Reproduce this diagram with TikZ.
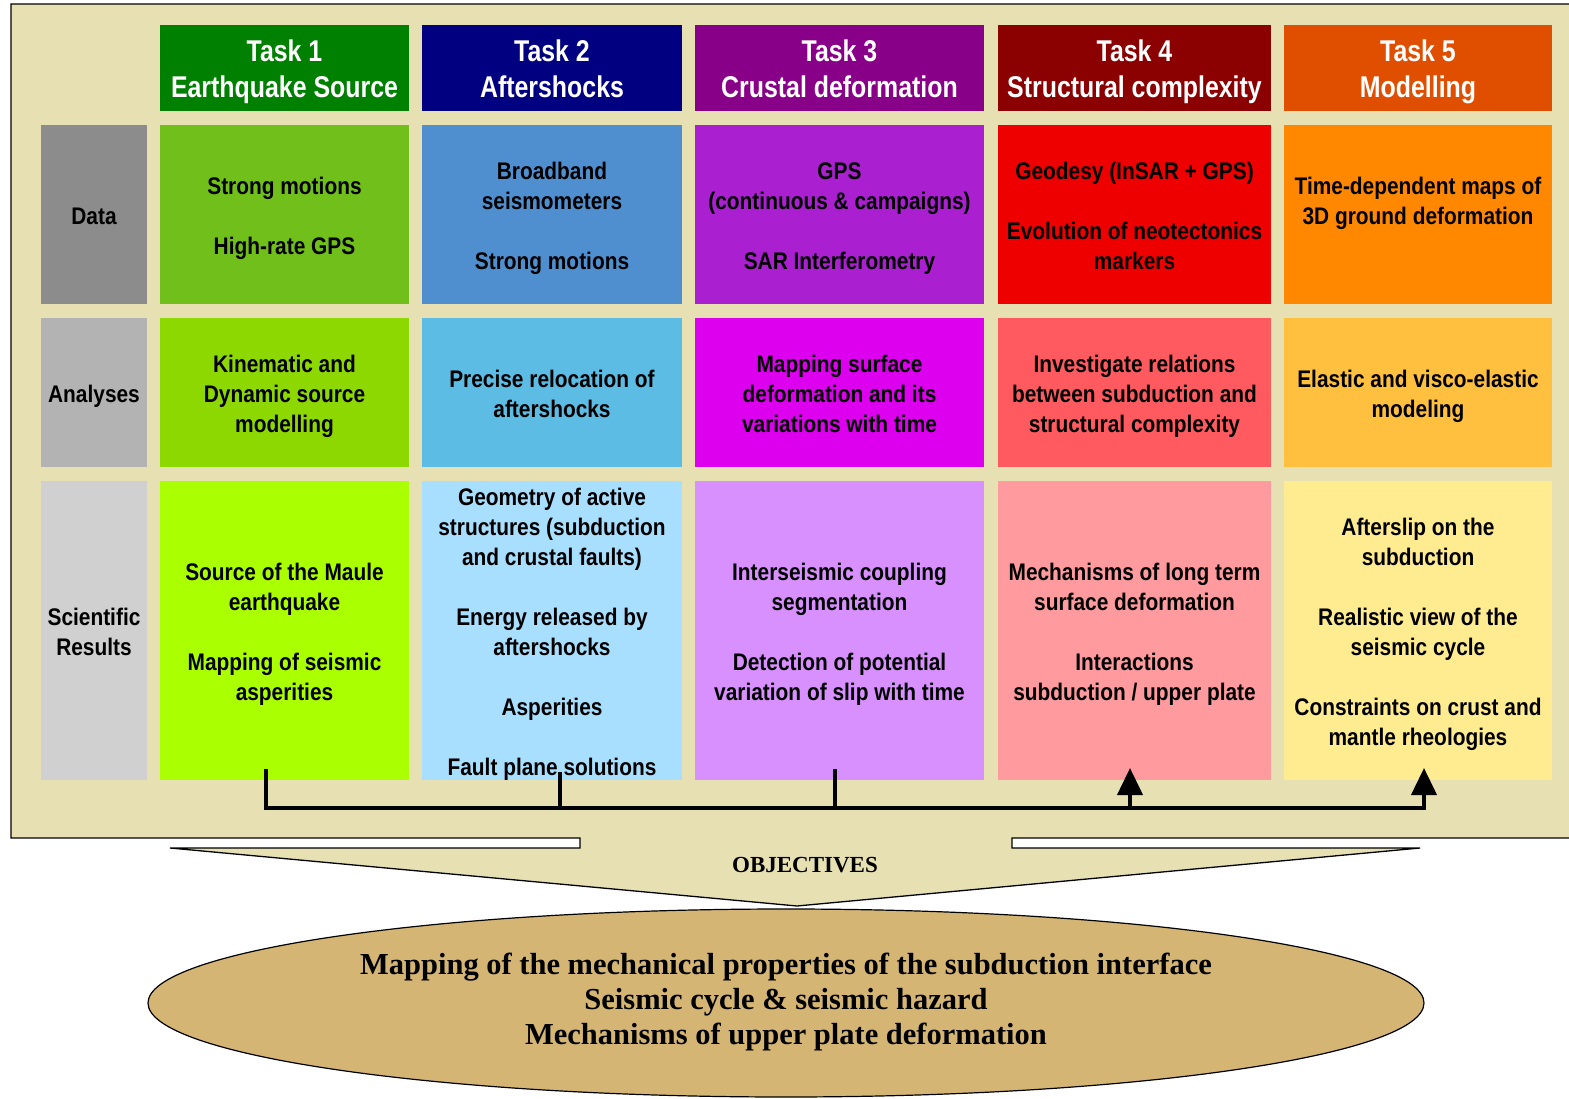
\documentclass[tikz,border=0pt]{standalone}
\usepackage{fontspec}
\setmainfont{Liberation Serif}
\newfontfamily\hdrfont[FakeStretch=0.83]{Liberation Sans}
\newfontfamily\cellfont[FakeStretch=0.87]{Liberation Sans}
\usetikzlibrary{shapes.geometric,arrows.meta}
\newcommand\ts{\rule{0pt}{29pt}}
\newcommand\hts{\rule{0pt}{33pt}}
\definecolor{panel}{HTML}{E6E0B2}
\definecolor{hA}{HTML}{008000}
\definecolor{hB}{HTML}{000080}
\definecolor{hC}{HTML}{880088}
\definecolor{hD}{HTML}{8B0000}
\definecolor{hE}{HTML}{E04E00}
\definecolor{dL}{HTML}{8C8C8C}
\definecolor{dA}{HTML}{70BF1A}
\definecolor{dB}{HTML}{4F8FCF}
\definecolor{dC}{HTML}{AA20D0}
\definecolor{dD}{HTML}{EE0000}
\definecolor{dE}{HTML}{FF8800}
\definecolor{aL}{HTML}{B3B3B3}
\definecolor{aA}{HTML}{8CD800}
\definecolor{aB}{HTML}{5CBCE4}
\definecolor{aC}{HTML}{DD00EE}
\definecolor{aD}{HTML}{FF5A5F}
\definecolor{aE}{HTML}{FFC040}
\definecolor{rL}{HTML}{D0D0D0}
\definecolor{rA}{HTML}{AAFF00}
\definecolor{rB}{HTML}{A8DFFF}
\definecolor{rC}{HTML}{D890FF}
\definecolor{rD}{HTML}{FF9A9E}
\definecolor{rE}{HTML}{FFEC90}
\definecolor{goalfill}{HTML}{D4B574}
\begin{document}
\begin{tikzpicture}[x=1pt,y=-1pt,
  cell/.style={anchor=north west, inner sep=0pt, outer sep=0pt, align=center},
  hd/.style={cell, text=white, font=\hdrfont\bfseries\fontsize{30}{36}\selectfont},
  bd/.style={cell, text=black, font=\cellfont\bfseries\fontsize{24}{30}\selectfont},
  wL/.style={minimum width=106pt}, wA/.style={minimum width=249pt},
  wB/.style={minimum width=260pt}, wC/.style={minimum width=289pt},
  wD/.style={minimum width=273pt}, wE/.style={minimum width=268pt},
  hH/.style={minimum height=86pt}, hDt/.style={minimum height=179pt},
  hAn/.style={minimum height=149pt}, hR/.style={minimum height=299pt},
  bus/.style={line width=4pt, line join=miter},
  tip/.style={-{Triangle[width=25pt,length=27pt]}}
]
\useasboundingbox (0,0) rectangle (1569,1099);
\fill[white] (0,0) rectangle (1569,1099);
% panel and objectives arrow
\fill[panel] (11,4) rectangle (1575,838);
\fill[panel] (170,848) -- (1420,848) -- (797,906) -- cycle;
\fill[panel] (580,836) rectangle (1012,849);
\draw[line width=1.3pt] (1575,838) -- (1012,838) -- (1012,848) -- (1420,848) -- (797,906) -- (170,848) -- (580,848) -- (580,838) -- (11,838) -- (11,4) -- (1575,4);
\node[font=\bfseries\fontsize{23}{26}\selectfont] (obj) at (805,865) {OBJECTIVES};
% header row
\node[hd,wA,hH,fill=hA] (h1) at (160,25) {\hts Task 1\\Earthquake Source\strut};
\node[hd,wB,hH,fill=hB] (h2) at (422,25) {\hts Task 2\\Aftershocks\strut};
\node[hd,wC,hH,fill=hC] (h3) at (695,25) {\hts Task 3\\Crustal deformation\strut};
\node[hd,wD,hH,fill=hD] (h4) at (998,25) {\hts Task 4\\Structural complexity\strut};
\node[hd,wE,hH,fill=hE] (h5) at (1284,25) {\hts Task 5\\Modelling\strut};
% data row
\node[bd,wL,hDt,fill=dL] (dl) at (41,125) {\ts Data\strut};
\node[bd,wA,hDt,fill=dA] (d1) at (160,125) {\ts Strong motions\\[30pt]High-rate GPS\strut};
\node[bd,wB,hDt,fill=dB] (d2) at (422,125) {\ts Broadband\\seismometers\\[30pt]Strong motions\strut};
\node[bd,wC,hDt,fill=dC] (d3) at (695,125) {\ts GPS\\(continuous \& campaigns)\\[30pt]SAR Interferometry\strut};
\node[bd,wD,hDt,fill=dD] (d4) at (998,125) {\ts Geodesy (InSAR + GPS)\\[30pt]Evolution of neotectonics\\markers\strut};
\node[bd,wE,hDt,fill=dE] (d5) at (1284,125) {\ts Time-dependent maps of\\3D ground deformation\\\strut};
% analyses row
\node[bd,wL,hAn,fill=aL] (al) at (41,318) {\ts Analyses\strut};
\node[bd,wA,hAn,fill=aA] (a1) at (160,318) {\ts Kinematic and\\Dynamic source\\modelling\strut};
\node[bd,wB,hAn,fill=aB] (a2) at (422,318) {\ts Precise relocation of\\aftershocks\strut};
\node[bd,wC,hAn,fill=aC] (a3) at (695,318) {\ts Mapping surface\\deformation and its\\variations with time\strut};
\node[bd,wD,hAn,fill=aD] (a4) at (998,318) {\ts Investigate relations\\between subduction and\\structural complexity\strut};
\node[bd,wE,hAn,fill=aE] (a5) at (1284,318) {\ts Elastic and visco-elastic\\modeling\strut};
% results row
\node[bd,wL,hR,fill=rL] (rl) at (41,481) {\ts Scientific\\Results\strut};
\node[bd,wA,hR,fill=rA] (r1) at (160,481) {\ts Source of the Maule\\earthquake\\[30pt]Mapping of seismic\\asperities\strut};
\node[bd,wB,hR,fill=rB] (r2) at (422,481) {};
\node[align=center, inner sep=0pt, font=\cellfont\bfseries\fontsize{24}{30}\selectfont] (r2t) at (552,634) {\strut Geometry of active\\structures (subduction\\and crustal faults)\\[30pt]Energy released by\\aftershocks\\[30pt]Asperities\\[30pt]Fault plane solutions\strut};
\node[bd,wC,hR,fill=rC] (r3) at (695,481) {\ts Interseismic coupling\\segmentation\\[30pt]Detection of potential\\variation of slip with time\strut};
\node[bd,wD,hR,fill=rD] (r4) at (998,481) {\ts Mechanisms of long term\\surface deformation\\[30pt]Interactions\\subduction / upper plate\strut};
\node[bd,wE,hR,fill=rE] (r5) at (1284,481) {\ts Afterslip on the\\subduction\\[30pt]Realistic view of the\\seismic cycle\\[30pt]Constraints on crust and\\mantle rheologies\strut};
% connectors
\coordinate (c1) at (266,769);
\coordinate (c2) at (560,772);
\coordinate (c3) at (835,769);
\coordinate (bL) at (266,808);
\coordinate (b2) at (560,808);
\coordinate (b3) at (835,808);
\coordinate (b4) at (1130,808);
\coordinate (bR) at (1424,808);
\coordinate (t4) at (1130,768);
\coordinate (t5) at (1424,768);
\draw[bus,tip] (c1) -- (bL) -- (bR) -- (t5);
\draw[bus] (c2) -- (b2);
\draw[bus] (c3) -- (b3);
\draw[bus,tip] (b4) -- (t4);
% goal ellipse
\node[draw, line width=1.2pt, ellipse, fill=goalfill, minimum width=1276pt, minimum height=188pt, inner sep=0pt] (goal) at (786,1003) {};
\node[align=center, font=\bfseries\fontsize{30.5}{35}\selectfont] (goaltext) at (786,1002) {Mapping of the mechanical properties of the subduction interface\\Seismic cycle \& seismic hazard\\Mechanisms of upper plate deformation};
\end{tikzpicture}
\end{document}
